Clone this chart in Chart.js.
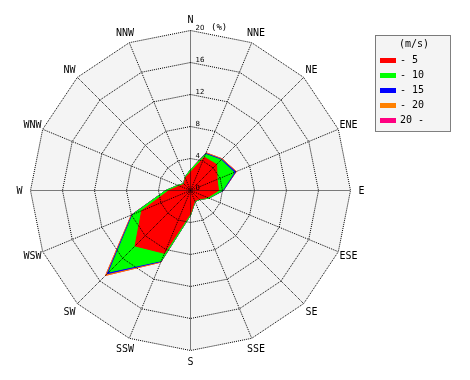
<!DOCTYPE html>
<html>
<head>
<meta charset="utf-8">
<script src="https://cdn.jsdelivr.net/npm/chart.js@4.4.1/dist/chart.umd.min.js"></script>
<style>
  html, body { margin: 0; padding: 0; background: #fff; }
  canvas { display: block; }
</style>
</head>
<body>
<canvas id="rosa" width="470" height="380"></canvas>
<script>
// direcciones del viento (sentido horario desde el norte)
const direcciones = ["N", "NNE", "NE", "ENE", "E", "ESE", "SE", "SSE",
                     "S", "SSW", "SW", "WSW", "W", "WNW", "NW", "NNW"];

// frecuencia (%) por rango de velocidad, no acumulada
const rango5     = [2.3, 4.5, 4.6, 3.6, 3.5, 2.3, 1.5, 1.4, 2.9, 8.5, 9.8, 6.6, 2.7, 1.5, 1.1, 1.7];
const rango10    = [0.3, 0.4, 0.8, 2.3, 0.5, 0.2, 0.1, 0.1, 0.2, 1.0, 4.6, 1.2, 0.4, 0.2, 0.1, 0.1];
const rango15    = [0.0, 0.1, 0.1, 0.2, 0.1, 0.0, 0.0, 0.0, 0.0, 0.1, 0.3, 0.1, 0.0, 0.0, 0.0, 0.0];
const rango20    = [0.0, 0.1, 0.1, 0.1, 0.0, 0.0, 0.0, 0.0, 0.0, 0.1, 0.3, 0.1, 0.0, 0.0, 0.0, 0.0];
const rango20mas = [0.0, 0.0, 0.0, 0.0, 0.0, 0.0, 0.0, 0.0, 0.0, 0.0, 0.0, 0.0, 0.0, 0.0, 0.0, 0.0];

const bandas = ["- 5", "- 10", "- 15", "- 20", "20 -"];
const marcas = [0, 4, 8, 12, 16, 20];

const colores = ["#ff0000", "#00ff00", "#0000ff", "#ff8000", "#ff0080"];
const fondo = "#f4f4f4";

// cada poligono es la suma acumulada de los rangos
const series = [rango5, rango10, rango15, rango20, rango20mas];
let acumulado = direcciones.map(() => 0);
const datasets = series.map((serie, i) => {
    acumulado = acumulado.map((v, j) => +(v + serie[j]).toFixed(2));
    return {
        label: bandas[i],
        data: acumulado,
        backgroundColor: colores[i],
        borderColor: colores[i],
        borderWidth: 1,
        fill: true,
        pointRadius: 0,
        tension: 0
    };
});

const extras = {
    id: "extras",
    beforeDraw(chart) {
        chart.ctx.save();
        chart.ctx.translate(0.5, 0.5);
    },
    beforeDatasetsDraw(chart) {
        const r = chart.scales.r;
        const ctx = chart.ctx;
        ctx.save();
        ctx.fillStyle = fondo;
        ctx.beginPath();
        direcciones.forEach((d, i) => {
            const p = r.getPointPosition(i, r.drawingArea);
            if (i === 0) ctx.moveTo(p.x, p.y); else ctx.lineTo(p.x, p.y);
        });
        ctx.closePath();
        ctx.fill();
        ctx.restore();
    },
    afterDraw(chart) {
        const ctx = chart.ctx;
        ctx.restore();
        const r = chart.scales.r;

        ctx.save();
        ctx.fillStyle = "#000";

        // nombres de las direcciones
        ctx.font = '10px "DejaVu Sans Mono"';
        ctx.textAlign = "center";
        ctx.textBaseline = "middle";
        direcciones.forEach((d, i) => {
            const p = r.getPointPosition(i, r.drawingArea + 11);
            ctx.fillText(d, p.x + 0.5, p.y + 1);
        });

        // marcas del eje radial
        ctx.font = '7px "DejaVu Sans"';
        ctx.textAlign = "left";
        ctx.textBaseline = "alphabetic";
        marcas.forEach(v => {
            const y = r.yCenter - r.getDistanceFromCenterForValue(v);
            ctx.fillText(String(v), r.xCenter + 5.5, y - 0.5);
        });
        ctx.font = '9px "DejaVu Sans Mono"';
        ctx.fillText("(%)", r.xCenter + 21, r.yCenter - r.drawingArea);

        // leyenda
        const lx = 375, ly = 35, lw = 75, lh = 96;
        ctx.fillStyle = fondo;
        ctx.fillRect(lx, ly, lw, lh);
        ctx.strokeStyle = "#000";
        ctx.lineWidth = 1;
        ctx.setLineDash([1, 1]);
        ctx.strokeRect(lx + 0.5, ly + 0.5, lw, lh);
        ctx.setLineDash([]);
        ctx.fillStyle = "#000";
        ctx.font = '10px "DejaVu Sans Mono"';
        ctx.textBaseline = "middle";
        ctx.textAlign = "center";
        ctx.fillText("(m/s)", lx + 39, ly + 9);
        ctx.textAlign = "left";
        bandas.forEach((b, i) => {
            const y = ly + 24.5 + i * 15.2;
            ctx.fillStyle = colores[i];
            ctx.fillRect(lx + 5, Math.round(y) - 2, 16, 5);
            ctx.fillStyle = "#000";
            ctx.fillText(b, lx + 25, y + 0.5);
        });
        ctx.restore();
    }
};

new Chart(document.getElementById("rosa"), {
    type: "radar",
    data: { labels: direcciones, datasets },
    options: {
        responsive: false,
        animation: false,
        events: [],
        layout: { padding: { left: 30, top: 30, right: 120, bottom: 30 } },
        elements: { line: { tension: 0 } },
        plugins: { legend: { display: false }, tooltip: { enabled: false } },
        scales: {
            r: {
                min: 0,
                max: 20,
                ticks: { stepSize: 4, display: false, z: 1 },
                pointLabels: { display: false },
                grid: { color: "#000", lineWidth: 1, z: 1 },
                border: { dash: [1, 1] },
                angleLines: { color: "#000", lineWidth: 1, borderDash: [1, 1] },
                afterFit(scale) {
                    const area = scale.chart.chartArea;
                    scale.xCenter = Math.floor((area.left + area.right) / 2);
                    scale.yCenter = Math.floor((area.top + area.bottom) / 2);
                    scale.drawingArea = (area.right - area.left) / 2;
                }
            }
        }
    },
    plugins: [extras]
});
</script>
</body>
</html>
